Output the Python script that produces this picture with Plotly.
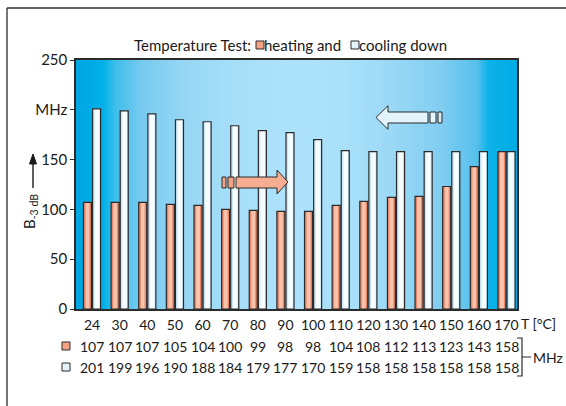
import plotly.graph_objects as go

# ---------------- data ----------------
temps = ["24", "30", "40", "50", "60", "70", "80", "90", "100", "110", "120",
         "130", "140", "150", "160", "170"]
heating = [107, 107, 107, 105, 104, 100, 99, 98, 98, 104, 108, 112, 113, 123, 143, 158]
cooling = [201, 199, 196, 190, 188, 184, 179, 177, 170, 159, 158, 158, 158, 158, 158, 158]
y_tickvals = [0, 50, 100, 150, 200, 250]
y_ticktext = ["0", "50", "100", "150", "MHz", "250"]

# ---------------- geometry helpers ----------------
W_FIG, H_FIG = 566, 406
ML, MR, MT, MB = 76, 49, 60, 97
PW = W_FIG - ML - MR
PH = H_FIG - MT - MB
FONT = "Lato"
DARK = "#2b2b2b"
TXT = "#1a1a1a"
HEAT = "#f4a285"
HEAT_EDGE = "#ec8568"
HEAT_HI = "#f9c2ab"
COOL = "#e3f4fc"
COOL_EDGE = "#cfe8f6"
COOL_HI = "#f7fcff"


def px(x):
    return (x - ML) / PW


def py(y):
    return (H_FIG - MB - y) / PH


def hexmix(c1, c2, t):
    a = [int(c1[i:i + 2], 16) for i in (1, 3, 5)]
    b = [int(c2[i:i + 2], 16) for i in (1, 3, 5)]
    return "#" + "".join(f"{round(a[k] + (b[k] - a[k]) * t):02x}" for k in range(3))


stops = [(0.00, "#00a6e2"), (0.06, "#00b0e8"), (0.09, "#3ebfeb"), (0.15, "#78caef"),
         (0.24, "#95d6f4"), (0.35, "#a6def8"), (0.48, "#ade2fb"), (0.60, "#aae1fa"),
         (0.71, "#9cd9f6"), (0.83, "#80cdf1"), (0.91, "#55c0ec"), (0.935, "#0cb1e7"),
         (1.00, "#00ace5")]


def grad(f):
    for (f0, c0), (f1, c1) in zip(stops[:-1], stops[1:]):
        if f0 <= f <= f1:
            return hexmix(c0, c1, (f - f0) / (f1 - f0) if f1 > f0 else 0)
    return stops[-1][1]


fig = go.Figure()
BW = 0.29
series = [("heating and", heating, -0.31, HEAT_EDGE, HEAT_HI, -0.235, 0.14),
          ("cooling down", cooling, 0.02, COOL_EDGE, COOL_HI, 0.10, 0.16)]
for name, vals, off, base, hi, hoff, hw in series:
    # body
    fig.add_trace(go.Bar(x=temps, y=vals, name=name, offset=off, width=BW,
                         marker=dict(color=base, line=dict(width=0)), hoverinfo="skip"))
    # cylindrical highlight
    fig.add_trace(go.Bar(x=temps, y=vals, name=name, offset=hoff, width=hw,
                         marker=dict(color=hi, line=dict(width=0)), hoverinfo="skip"))
    # outline
    fig.add_trace(go.Bar(x=temps, y=vals, name=name, offset=off, width=BW,
                         marker=dict(color="rgba(0,0,0,0)",
                                     line=dict(color=DARK, width=1.2))))

shapes = []
N = 140
for i in range(N):
    f0, f1 = i / N, (i + 1) / N
    shapes.append(dict(type="rect", xref="paper", yref="paper", x0=f0, x1=f1 + 0.002,
                       y0=0, y1=1, fillcolor=grad((f0 + f1) / 2), line=dict(width=0),
                       layer="below"))

# outer frame (top + left lines)
shapes.append(dict(type="line", xref="paper", yref="paper", x0=px(7), x1=px(600),
                   y0=py(8), y1=py(8), line=dict(color=DARK, width=1.3)))
shapes.append(dict(type="line", xref="paper", yref="paper", x0=px(7), x1=px(7),
                   y0=py(8), y1=py(450), line=dict(color=DARK, width=1.3)))


def poly(pts, fill, lw=1):
    d = "M " + " L ".join(f"{px(a):.5f},{py(b):.5f}" for a, b in pts) + " Z"
    return dict(type="path", xref="paper", yref="paper", path=d, fillcolor=fill,
                line=dict(color=DARK, width=lw))


# heating arrow (right)
shapes.append(poly([(222, 177), (226, 177), (226, 188), (222, 188)], HEAT))
shapes.append(poly([(228, 177), (234, 177), (234, 188), (228, 188)], HEAT))
shapes.append(poly([(236, 177), (277, 177), (277, 170), (288, 182), (277, 194),
                    (277, 188), (236, 188)], "#f6ad92"))
# cooling arrow (left)
shapes.append(poly([(376, 117.5), (388, 105.7), (388, 112), (428, 112), (428, 123),
                    (388, 123), (388, 129.3)], COOL))
shapes.append(poly([(430, 112), (436, 112), (436, 123), (430, 123)], COOL))
shapes.append(poly([(438, 112), (442, 112), (442, 123), (438, 123)], "#d8e6ee"))

# title squares
shapes.append(poly([(256, 41), (264, 41), (264, 49), (256, 49)], HEAT))
shapes.append(poly([(351, 41), (359, 41), (359, 49), (351, 49)], COOL))
# row squares
shapes.append(poly([(62, 342), (70, 342), (70, 350), (62, 350)], HEAT))
shapes.append(poly([(62, 363), (70, 363), (70, 371), (62, 371)], COOL))
# bracket
shapes.append(dict(type="path", xref="paper", yref="paper",
                   path=f"M {px(517):.5f},{py(338):.5f} L {px(522):.5f},{py(338):.5f} "
                        f"L {px(522):.5f},{py(376):.5f} L {px(517):.5f},{py(376):.5f} "
                        f"M {px(522):.5f},{py(357):.5f} L {px(531):.5f},{py(357):.5f}",
                   line=dict(color=DARK, width=1.2)))
# y-label arrow
shapes.append(dict(type="line", xref="paper", yref="paper", x0=px(33), x1=px(33),
                   y0=py(188), y1=py(162), line=dict(color=TXT, width=1.4)))
shapes.append(dict(type="path", xref="paper", yref="paper",
                   path=f"M {px(29.5):.5f},{py(164):.5f} L {px(33):.5f},{py(154):.5f} "
                        f"L {px(36.5):.5f},{py(164):.5f} Z",
                   fillcolor=TXT, line=dict(color=TXT, width=1)))

ann = []
tf = dict(family=FONT, size=15, color=TXT)
rf = dict(family=FONT, size=14, color=TXT)
ann.append(dict(text="Temperature Test:", x=px(252), y=py(45), xref="paper", yref="paper",
                xanchor="right", yanchor="middle", showarrow=False, font=tf, borderpad=0))
ann.append(dict(text="heating and", x=px(263), y=py(45), xref="paper", yref="paper",
                xanchor="left", yanchor="middle", showarrow=False, font=tf, borderpad=0))
ann.append(dict(text="cooling down", x=px(358), y=py(45), xref="paper", yref="paper",
                xanchor="left", yanchor="middle", showarrow=False, font=tf, borderpad=0))
ann.append(dict(text="T [°C]", x=px(520), y=py(323), xref="paper", yref="paper",
                xanchor="left", yanchor="middle", showarrow=False, font=rf, borderpad=0))
ann.append(dict(text="MHz", x=px(532), y=py(357), xref="paper", yref="paper",
                xanchor="left", yanchor="middle", showarrow=False, font=rf, borderpad=0))
for i, (h, c) in enumerate(zip(heating, cooling)):
    ann.append(dict(text=str(h), x=i, y=py(346), xref="x", yref="paper",
                    xanchor="center", yanchor="middle", showarrow=False, font=rf))
    ann.append(dict(text=str(c), x=i, y=py(367), xref="x", yref="paper",
                    xanchor="center", yanchor="middle", showarrow=False, font=rf))
# y label
ann.append(dict(text="B<sub>-3 dB</sub>", x=px(30), y=py(212), xref="paper", yref="paper",
                textangle=-90, xanchor="center", yanchor="middle", showarrow=False,
                font=dict(family=FONT, size=15, color=TXT)))

fig.update_layout(
    width=W_FIG, height=H_FIG,
    margin=dict(l=ML, r=MR, t=MT, b=MB),
    paper_bgcolor="white", plot_bgcolor="#00ace5",
    barmode="overlay",
    showlegend=False,
    shapes=shapes, annotations=ann,
    font=dict(family=FONT, size=15, color=TXT),
)
fig.update_xaxes(type="category", range=[-0.58, 15.38], showgrid=False,
                 tickmode="array", tickvals=temps, ticktext=temps,
                 showline=True, mirror=True, linecolor=DARK, linewidth=1.5,
                 ticks="", tickangle=0, tickfont=rf, ticklabelstandoff=2)
fig.update_yaxes(range=[0, 250], tickvals=y_tickvals, ticktext=y_ticktext,
                 showgrid=False, zeroline=False, showline=True, mirror=True,
                 linecolor=DARK, linewidth=1.5, ticks="outside", ticklen=4,
                 tickcolor=DARK, tickfont=tf)

fig.write_html("out.html",
               config={"displayModeBar": False},
               post_script="document.body.style.margin='0';"
                           "document.body.style.overflow='hidden';")
